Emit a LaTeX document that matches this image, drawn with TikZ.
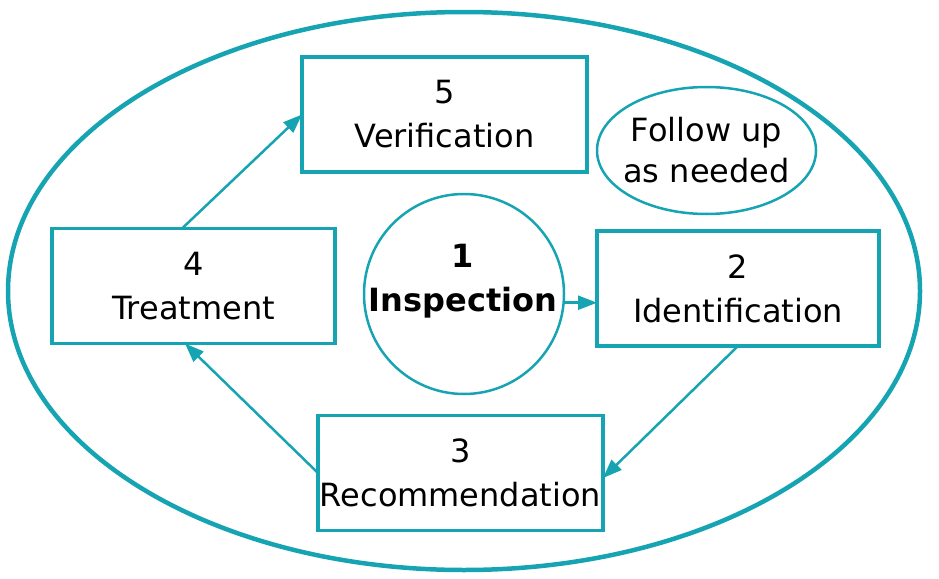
\documentclass[tikz,border=0pt]{standalone}
\usepackage{fontspec}
\setmainfont{DejaVu Sans}
\usetikzlibrary{shapes.geometric,arrows.meta}
\definecolor{teal1}{RGB}{22,164,178}
\begin{document}
\begin{tikzpicture}[x=1pt,y=-1pt,
  every node/.style={inner sep=0pt,outer sep=0pt,align=center,
    font=\fontsize{32}{44}\selectfont},
  stepbox/.style={draw=teal1,line width=3.5pt,rectangle,minimum height=115pt},
  conn/.style={draw=teal1,line width=2.5pt,-{Triangle[length=19pt,width=14pt]}}]
\useasboundingbox (0,0) rectangle (939,578);
\node[draw=teal1,line width=4.5pt,ellipse,minimum width=912pt,minimum height=558pt] (outer) at (464,291) {};
\node[stepbox,minimum width=285pt] (b5) at (444.5,114.5) {5\\Verification};
\node[stepbox,minimum width=283pt] (b4) at (193.5,286) {4\\Treatment};
\node[stepbox,minimum width=282pt] (b2) at (738,288.5) {2\\Identification};
\node[stepbox,minimum width=285pt] (b3) at (460.5,473) {3\\Recommendation};
\node[draw=teal1,line width=2.5pt,ellipse,minimum width=219pt,minimum height=127pt] (fu) at (706.5,150.5) {};
\node[font=\fontsize{32}{41}\selectfont] (fut) at (706.5,150.5) {Follow up\\as needed};
\node[draw=teal1,line width=2.5pt,circle,minimum size=200pt] (c1) at (464,294) {};
\node[font=\fontsize{32}{44}\selectfont\bfseries] (c1t) at (463,281) {1\\Inspection};
\draw[conn] ([xshift=-11.5pt]b4.north) -- (b5.west);
\draw[conn] (c1.-5) -- (c1.-5 -| b2.west);
\draw[conn] (b2.south) -- ([yshift=-5pt]b3.east);
\draw[conn] (b3.west) -- ([xshift=-8.5pt]b4.south);
\end{tikzpicture}
\end{document}
